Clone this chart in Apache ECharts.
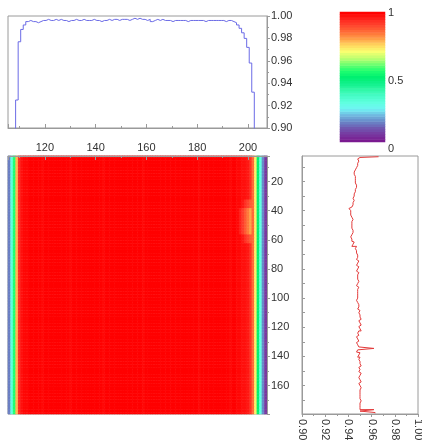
<!DOCTYPE html>
<html><head><meta charset="utf-8">
<script src="https://cdn.jsdelivr.net/npm/echarts@6/dist/echarts.min.js"></script>
<style>html,body{margin:0;padding:0;background:#fff}#c{width:422px;height:443px}</style>
</head><body><div id="c"></div>
<script>
// column positions (x)
const colX = [106,107,108,109,110,111,112,113,114,115,
  116,117,118,119,120,121,122,123,124,125,
  126,127,128,129,130,131,132,133,134,135,
  136,137,138,139,140,141,142,143,144,145,
  146,147,148,149,150,151,152,153,154,155,
  156,157,158,159,160,161,162,163,164,165,
  166,167,168,169,170,171,172,173,174,175,
  176,177,178,179,180,181,182,183,184,185,
  186,187,188,189,190,191,192,193,194,195,
  196,197,198,199,200,201,202,203,204,205,
  206,207];
// top profile values per column
const topVals = [0.600,0.720,0.860,0.925,0.977,0.988,0.992,0.995,0.996,0.995,
  0.995,0.994,0.995,0.996,0.996,0.997,0.996,0.996,0.997,0.996,
  0.997,0.996,0.996,0.995,0.996,0.996,0.997,0.996,0.996,0.997,
  0.996,0.996,0.996,0.997,0.996,0.996,0.995,0.996,0.996,0.997,
  0.996,0.997,0.997,0.996,0.997,0.997,0.997,0.996,0.997,0.998,
  0.997,0.998,0.997,0.997,0.996,0.997,0.995,0.996,0.997,0.996,
  0.997,0.996,0.996,0.996,0.995,0.996,0.996,0.996,0.996,0.996,
  0.995,0.996,0.996,0.996,0.996,0.996,0.996,0.995,0.996,0.996,
  0.996,0.996,0.996,0.996,0.996,0.995,0.996,0.996,0.995,0.994,
  0.992,0.989,0.985,0.980,0.972,0.958,0.932,0.860,0.750,0.650,
  0.550,0.450];
// heatmap cell value per column
const heatCols = [0.14,0.30,0.55,0.78,0.95,0.98,0.99,0.99,1.00,1.00,
  1.00,1.00,1.00,0.99,1.00,1.00,1.00,1.00,1.00,1.00,
  1.00,1.00,1.00,1.00,0.99,1.00,1.00,1.00,1.00,1.00,
  1.00,1.00,1.00,1.00,1.00,1.00,1.00,0.99,1.00,1.00,
  1.00,1.00,1.00,1.00,1.00,1.00,1.00,1.00,1.00,1.00,
  1.00,1.00,1.00,0.99,1.00,1.00,1.00,1.00,1.00,1.00,
  1.00,1.00,1.00,1.00,1.00,1.00,1.00,1.00,1.00,1.00,
  1.00,1.00,1.00,1.00,1.00,0.99,1.00,1.00,1.00,1.00,
  1.00,1.00,1.00,1.00,1.00,1.00,1.00,0.99,1.00,1.00,
  0.99,0.99,0.98,0.98,0.97,0.94,0.86,0.72,0.50,0.30,
  0.15,0.05];
// warmer patch near the right edge: [first row, last row, first column, values]
const patchOuter = [33, 62, 198, [0.97, 0.94, 0.91, 0.88]];
const patchInner = [39, 56, 197, [0.96, 0.92, 0.88, 0.84, 0.80]];
// row positions (y)
const rowY = [3,4,5,6,7,8,9,10,11,12,13,14,15,16,17,18,19,20,21,22,
  23,24,25,26,27,28,29,30,31,32,33,34,35,36,37,38,39,40,41,42,
  43,44,45,46,47,48,49,50,51,52,53,54,55,56,57,58,59,60,61,62,
  63,64,65,66,67,68,69,70,71,72,73,74,75,76,77,78,79,80,81,82,
  83,84,85,86,87,88,89,90,91,92,93,94,95,96,97,98,99,100,101,102,
  103,104,105,106,107,108,109,110,111,112,113,114,115,116,117,118,119,120,121,122,
  123,124,125,126,127,128,129,130,131,132,133,134,135,136,137,138,139,140,141,142,
  143,144,145,146,147,148,149,150,151,152,153,154,155,156,157,158,159,160,161,162,
  163,164,165,166,167,168,169,170,171,172,173,174,175,176,177,178,179];
// right profile values per row
const rowVals = [0.966,0.950,0.948,0.949,0.948,0.947,0.948,0.947,0.946,0.946,
  0.945,0.946,0.945,0.946,0.945,0.946,0.946,0.945,0.946,0.947,
  0.946,0.947,0.946,0.947,0.946,0.945,0.944,0.945,0.944,0.944,
  0.945,0.944,0.944,0.944,0.943,0.944,0.9405,0.942,0.942,0.942,
  0.942,0.943,0.943,0.944,0.943,0.944,0.943,0.943,0.944,0.943,
  0.944,0.943,0.944,0.943,0.943,0.942,0.943,0.942,0.943,0.945,
  0.944,0.943,0.947,0.946,0.947,0.948,0.947,0.948,0.947,0.948,
  0.947,0.948,0.949,0.948,0.947,0.948,0.949,0.948,0.947,0.948,
  0.949,0.948,0.948,0.947,0.948,0.949,0.948,0.948,0.947,0.948,
  0.949,0.948,0.948,0.949,0.948,0.948,0.949,0.948,0.947,0.948,
  0.948,0.949,0.948,0.949,0.948,0.949,0.950,0.949,0.950,0.949,
  0.950,0.951,0.950,0.949,0.950,0.951,0.950,0.949,0.950,0.951,
  0.949,0.948,0.949,0.948,0.947,0.948,0.949,0.948,0.947,0.948,
  0.949,0.948,0.962,0.948,0.947,0.950,0.949,0.948,0.950,0.949,
  0.950,0.949,0.950,0.951,0.950,0.949,0.950,0.949,0.950,0.951,
  0.950,0.949,0.950,0.950,0.951,0.950,0.949,0.950,0.951,0.950,
  0.950,0.950,0.951,0.950,0.950,0.950,0.950,0.951,0.950,0.950,
  0.950,0.950,0.950,0.950,0.962,0.950,0.963];
// colour bar levels and tick labels
const barLevels = [0.00,0.02,0.04,0.06,0.08,0.10,0.12,0.14,0.16,0.18,
  0.20,0.22,0.24,0.26,0.28,0.30,0.32,0.34,0.36,0.38,
  0.40,0.42,0.44,0.46,0.48,0.50,0.52,0.54,0.56,0.58,
  0.60,0.62,0.64,0.66,0.68,0.70,0.72,0.74,0.76,0.78,
  0.80,0.82,0.84,0.86,0.88,0.90,0.92,0.94,0.96,0.98,1.00];
const barTicks = [0, 0.5, 1];

const cmap = ['#7a1a90','#7838a0','#7058b0','#6888c8','#70b8e0','#70f4f4','#60ffe0','#48fcc8','#30f8a8','#10f08a','#00f070','#20ff70','#70ff70','#c0ff70','#f8ff70','#ffd860','#ffa048','#ff7038','#ff4a30','#ff2820','#ff0000'];

function patchValue(p, r, x) {
  const k = x - p[2];
  if (r >= p[0] && r <= p[1] && k >= 0 && k < p[3].length) return p[3][k];
  return null;
}
const heatData = [];
rowY.forEach((r, j) => {
  colX.forEach((x, i) => {
    let v = heatCols[i];
    const a = patchValue(patchOuter, r, x);
    if (a !== null) v = Math.min(v, a);
    const b = patchValue(patchInner, r, x);
    if (b !== null) v = Math.min(v, b);
    heatData.push([i, j, v]);
  });
});

const gray = '#9a9a9a';
const font = {color: '#333', fontFamily: 'Liberation Sans, Arial, sans-serif', fontSize: 11};
const line = {show: true, lineStyle: {color: gray, width: 1}};
const hidden = {show: false};

const chart = echarts.init(document.getElementById('c'), null, {renderer: 'canvas'});
chart.setOption({
  animation: false,
  backgroundColor: '#fff',
  grid: [
    {left: 8, top: 16, width: 259, height: 112, show: true, borderColor: gray, borderWidth: 1, outerBoundsMode: 'none'},
    {left: 8, top: 156, width: 259, height: 258, show: true, borderColor: gray, borderWidth: 1, outerBoundsMode: 'none'},
    {left: 8, top: 156, width: 259, height: 258, outerBoundsMode: 'none'},
    {left: 302, top: 156, width: 116, height: 258, show: true, borderColor: gray, borderWidth: 1, outerBoundsMode: 'none'},
    {left: 340, top: 13, width: 45, height: 136, outerBoundsMode: 'none'},
    {left: 340, top: 12, width: 45, height: 130, outerBoundsMode: 'none'}
  ],
  xAxis: [
    {gridIndex: 0, type: 'value', min: 105.5, max: 207.5, position: 'bottom',
     axisLine: line, axisTick: {show: true, inside: true, length: 4, lineStyle: {color: gray}},
     minorTick: {show: true, splitNumber: 2, length: 2, lineStyle: {color: gray}},
     axisLabel: {show: false}, splitLine: hidden},
    {gridIndex: 1, type: 'category', data: colX, show: false},
    {gridIndex: 2, type: 'value', min: 105.5, max: 207.5, position: 'top', z: 5,
     axisLine: line, axisTick: {show: true, inside: true, length: 4, lineStyle: {color: gray}},
     minorTick: {show: true, splitNumber: 2, length: 2, lineStyle: {color: gray}},
     axisLabel: Object.assign({margin: 3, showMinLabel: false, showMaxLabel: false}, font),
     splitLine: hidden},
    {gridIndex: 3, type: 'value', min: 0.9, max: 1.0, interval: 0.02, position: 'bottom',
     axisLine: line, axisTick: {show: true, inside: false, length: 3, lineStyle: {color: gray}},
     minorTick: {show: true, splitNumber: 2, length: 2, lineStyle: {color: gray}},
     axisLabel: Object.assign({margin: 5, rotate: -90, formatter: v => v.toFixed(2)}, font),
     splitLine: hidden},
    {gridIndex: 4, type: 'value', min: 0, max: 1, show: false},
    {gridIndex: 5, type: 'category', data: ['bar'], show: false}
  ],
  yAxis: [
    {gridIndex: 0, type: 'value', min: 0.9, max: 1.0, interval: 0.02, position: 'right',
     axisLine: line, axisTick: {show: true, inside: false, length: 3, lineStyle: {color: gray}},
     minorTick: {show: true, splitNumber: 2, length: 2, lineStyle: {color: gray}},
     axisLabel: Object.assign({margin: 4, formatter: v => v.toFixed(2)}, font),
     splitLine: hidden},
    {gridIndex: 1, type: 'category', data: rowY, inverse: true, show: false},
    {gridIndex: 2, type: 'value', min: 2.5, max: 179.5, splitNumber: 9, inverse: true, position: 'right', z: 5,
     axisLine: line, axisTick: {show: true, inside: false, length: 3, lineStyle: {color: gray}},
     minorTick: {show: true, splitNumber: 2, length: 2, lineStyle: {color: gray}},
     axisLabel: Object.assign({margin: 4, showMinLabel: false, showMaxLabel: false}, font),
     splitLine: hidden},
    {gridIndex: 3, type: 'category', data: rowY, inverse: true, position: 'left',
     axisLine: line,
     axisTick: {show: true, inside: true, length: 3, alignWithLabel: true, interval: (i, v) => Number(v) % 10 === 0, lineStyle: {color: gray}},
     axisLabel: {show: false}, splitLine: hidden},
    {gridIndex: 4, type: 'value', min: 0, max: 1, interval: 0.5, position: 'right',
     axisLine: hidden, axisTick: hidden, splitLine: hidden,
     axisLabel: Object.assign({margin: 3, customValues: barTicks}, font)},
    {gridIndex: 5, type: 'category', data: barLevels, show: false}
  ],
  visualMap: [{
    type: 'continuous', min: 0, max: 1, seriesIndex: [1, 3], show: false,
    inRange: {color: cmap}
  }],
  series: [
    {type: 'line', xAxisIndex: 0, yAxisIndex: 0, data: colX.map((x, i) => [x, topVals[i]]),
     step: 'middle', symbol: 'none', clip: true, lineStyle: {color: '#6b6be6', width: 1}},
    {type: 'heatmap', xAxisIndex: 1, yAxisIndex: 1, data: heatData, progressive: 0, z: 1,
     emphasis: {disabled: true}},
    {type: 'line', xAxisIndex: 3, yAxisIndex: 3, data: rowVals,
     step: 'middle', symbol: 'none', clip: true, lineStyle: {color: '#e23a3a', width: 1}},
    {type: 'heatmap', xAxisIndex: 5, yAxisIndex: 5, data: barLevels.map((v, i) => [0, i, v]),
     progressive: 0, emphasis: {disabled: true}}
  ]
});
</script></body></html>
